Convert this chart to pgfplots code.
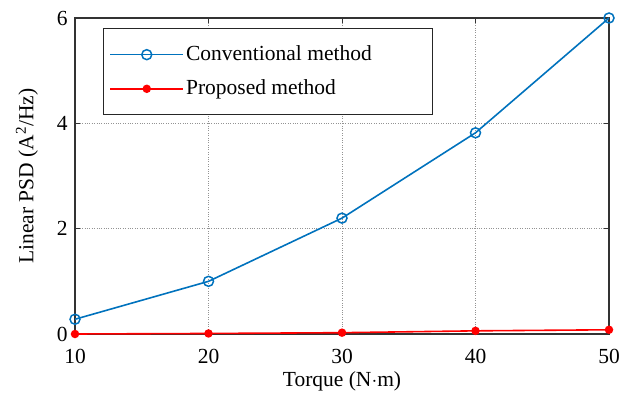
\documentclass[border=0pt]{standalone}
\usepackage{pgfplots}
\pgfplotsset{compat=1.18}
\usepackage{fontspec}
\setmainfont{Liberation Serif}
\definecolor{mblue}{RGB}{0,114,189}
\definecolor{mred}{RGB}{255,0,0}
\begin{document}
\fontsize{21.5bp}{25bp}\selectfont
\begin{tikzpicture}
\path[use as bounding box] (-75bp,-62bp) rectangle (551bp,334bp);
\begin{axis}[
  at={(0,0)}, anchor=south west,
  scale only axis,
  width=534bp, height=316bp,
  xmin=10, xmax=50, ymin=0, ymax=6,
  xtick={10,20,30,40,50}, ytick={0,2,4,6},
  /pgf/number format/assume math mode=true,
  tick label style={font=\fontsize{21.5bp}{25bp}\selectfont},
  xticklabel style={anchor=center, yshift=-22bp},
  label style={font=\fontsize{21.5bp}{25bp}\selectfont},
  xlabel={Torque (N$\cdot$m)},
  ylabel={Linear PSD (A\textsuperscript{2}/Hz)},
  xlabel style={at={(axis description cs:0.5,-0.150)}, anchor=center},
  ylabel style={at={(axis description cs:-0.090,0.5)}, anchor=center},
  grid=major,
  major grid style={gray!85, dotted, line width=1pt},
  axis line style={black!80, line width=1.2pt},
  tick style={black!80, line width=0.8pt},
  tick align=inside,
  major tick length=5bp,
  legend style={at={(0.0524,0.968)}, anchor=north west, draw=black!85, line width=1pt,
    font=\fontsize{21.5bp}{25bp}\selectfont, row sep=12bp, inner xsep=6bp, inner ysep=15bp},
  legend cell align=left,
  legend image code/.code={\draw[#1] (0bp,0bp) -- (73bp,0bp); \draw[#1, only marks] plot coordinates {(36.5bp,0bp)};},
]
\addplot[mblue, line width=1.6pt, mark=o, mark size=5bp, mark options={line width=1.5pt}] coordinates {
(10,0.28) (20,1.0) (30,2.2) (40,3.82) (50,6.0)};
\addlegendentry{\makebox[238bp][l]{Conventional method}}
\addplot[mred, line width=1.6pt, mark=*, mark size=3.4bp] coordinates {
(10,0.0) (20,0.01) (30,0.025) (40,0.06) (50,0.08)};
\addlegendentry{\makebox[238bp][l]{Proposed method}}
\end{axis}
\end{tikzpicture}
\end{document}
